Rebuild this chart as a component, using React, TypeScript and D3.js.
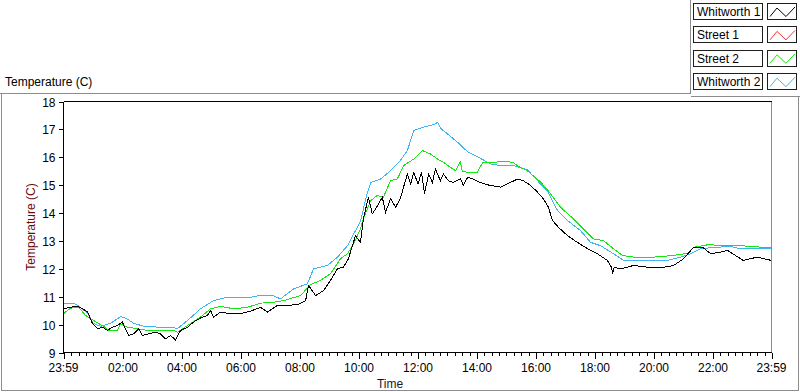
import * as d3 from 'd3'

// hours since midnight (first point is 23:59 the day before), temperature in C
const whitworth1: [number, number][] = [
  [-0.017, 10.57], [0.22, 10.62], [0.45, 10.66], [0.63, 10.57], [0.8, 10.45], [0.97, 10.03], [1.14, 9.85],
  [1.31, 9.91], [1.47, 9.79], [1.64, 9.91], [1.81, 9.97], [1.98, 10.09], [2.08, 9.85], [2.19, 9.61],
  [2.36, 9.67], [2.53, 9.85], [2.66, 9.61], [2.86, 9.67], [3.1, 9.73], [3.27, 9.67], [3.44, 9.49],
  [3.61, 9.61], [3.78, 9.45], [3.95, 9.79], [4.19, 9.91], [4.39, 10.09], [4.63, 10.24], [4.86, 10.33],
  [4.97, 10.5], [5.07, 10.27], [5.31, 10.45], [5.64, 10.39], [5.98, 10.39], [6.32, 10.48], [6.66, 10.62],
  [6.9, 10.45], [7.24, 10.69], [7.58, 10.69], [7.92, 10.72], [8.19, 10.86], [8.29, 11.4], [8.53, 11.04],
  [8.8, 11.22], [9.03, 11.58], [9.27, 12.0], [9.47, 12.06], [9.64, 12.36], [9.78, 12.83], [9.88, 13.19],
  [10.05, 12.95], [10.15, 13.8], [10.32, 14.57], [10.45, 13.97], [10.6, 14.21], [10.79, 14.57], [10.9, 14.03],
  [11.07, 14.51], [11.24, 14.21], [11.4, 14.51], [11.51, 14.93], [11.64, 15.4], [11.75, 15.04], [11.86, 15.46],
  [12.0, 15.04], [12.12, 15.46], [12.22, 14.69], [12.36, 15.4], [12.49, 15.1], [12.59, 15.58], [12.76, 15.16],
  [12.86, 15.4], [13.03, 15.16], [13.2, 15.1], [13.44, 15.22], [13.54, 14.99], [13.68, 15.28], [13.88, 15.22],
  [14.1, 15.1], [14.44, 14.99], [14.8, 14.93], [15.14, 15.1], [15.37, 15.22], [15.57, 15.16], [15.82, 14.99],
  [16.05, 14.75], [16.25, 14.51], [16.42, 14.21], [16.56, 13.73], [16.76, 13.49], [17.07, 13.19], [17.4, 12.95],
  [17.75, 12.72], [18.08, 12.54], [18.42, 12.3], [18.56, 12.06], [18.6, 11.82], [18.65, 12.06], [18.86, 12.0],
  [19.31, 12.12], [19.78, 12.06], [20.2, 12.03], [20.66, 12.12], [21.0, 12.36], [21.34, 12.77], [21.68, 12.75],
  [21.92, 12.54], [22.26, 12.6], [22.5, 12.66], [22.7, 12.52], [23.03, 12.3], [23.5, 12.42], [23.983, 12.3],
]

// no visible trace in the picture
const street1: [number, number][] = []

const street2: [number, number][] = [
  [-0.017, 10.39], [0.22, 10.59], [0.5, 10.62], [0.73, 10.33], [1.0, 10.15], [1.34, 9.94], [1.51, 9.79],
  [1.81, 9.79], [1.92, 10.03], [2.15, 9.91], [2.49, 9.85], [2.83, 9.79], [3.27, 9.79], [3.71, 9.79],
  [3.85, 9.73], [4.19, 9.97], [4.63, 10.27], [4.97, 10.57], [5.31, 10.65], [5.75, 10.57], [6.22, 10.62],
  [6.66, 10.77], [7.1, 10.8], [7.44, 10.86], [8.02, 11.04], [8.36, 11.44], [8.69, 11.58], [9.03, 11.82],
  [9.37, 12.36], [9.61, 12.54], [9.82, 12.9], [10.05, 13.43], [10.15, 13.8], [10.4, 14.45], [10.62, 14.63],
  [10.83, 14.57], [11.07, 15.16], [11.3, 15.22], [11.51, 15.7], [11.86, 15.94], [12.15, 16.24], [12.42, 16.12],
  [12.66, 15.94], [12.86, 15.82], [13.1, 15.64], [13.27, 15.52], [13.44, 15.84], [13.5, 15.5], [13.68, 15.46],
  [14.0, 15.45], [14.2, 15.82], [14.56, 15.82], [15.0, 15.86], [15.25, 15.8], [15.37, 15.7], [15.7, 15.52],
  [16.15, 15.12], [16.45, 14.75], [16.83, 14.21], [17.27, 13.79], [17.61, 13.43], [17.95, 13.07], [18.29, 13.01],
  [18.63, 12.72], [18.93, 12.48], [19.31, 12.42], [19.98, 12.42], [20.66, 12.48], [21.14, 12.56], [21.34, 12.77],
  [21.81, 12.86], [22.93, 12.83], [23.983, 12.75],
]

const whitworth2: [number, number][] = [
  [-0.017, 10.76], [0.33, 10.77], [0.56, 10.62], [0.8, 10.4], [1.0, 10.04], [1.24, 9.94], [1.58, 10.05],
  [1.92, 10.29], [2.15, 10.2], [2.36, 10.05], [2.7, 9.94], [3.17, 9.91], [3.6, 9.91], [3.85, 9.86],
  [4.19, 10.15], [4.63, 10.57], [5.07, 10.86], [5.54, 10.98], [6.22, 10.96], [6.66, 11.05], [7.1, 11.04],
  [7.34, 10.92], [7.78, 11.28], [8.25, 11.46], [8.46, 12.0], [8.93, 12.12], [9.27, 12.42], [9.61, 12.83],
  [9.82, 13.25], [10.05, 13.7], [10.25, 14.6], [10.4, 15.1], [10.73, 15.22], [11.07, 15.52], [11.4, 15.88],
  [11.64, 16.24], [11.86, 16.96], [12.19, 17.08], [12.53, 17.17], [12.66, 17.25], [12.8, 17.0], [13.0, 16.84],
  [13.34, 16.54], [13.68, 16.2], [14.0, 16.03], [14.46, 15.76], [14.8, 15.7], [15.25, 15.7], [15.71, 15.55],
  [16.05, 15.16], [16.39, 14.78], [16.73, 14.09], [17.07, 13.73], [17.51, 13.37], [17.85, 12.95], [18.19, 12.83],
  [18.63, 12.54], [18.97, 12.3], [19.78, 12.3], [20.46, 12.3], [20.9, 12.42], [21.24, 12.54], [21.58, 12.72],
  [22.02, 12.77], [22.6, 12.8], [22.93, 12.72], [23.983, 12.72],
]

const seriesNames = ['Whitworth 1', 'Street 1', 'Street 2', 'Whitworth 2']
const seriesColors = ['#000000', '#ff3030', '#14e614', '#3cb4f5']
const seriesData = [whitworth1, street1, street2, whitworth2]

const xMajorHours = [-1 / 60, 2, 4, 6, 8, 10, 12, 14, 16, 18, 20, 22, 23 + 59 / 60]
const xMajorLabels = ['23:59', '02:00', '04:00', '06:00', '08:00', '10:00', '12:00', '14:00', '16:00', '18:00', '20:00', '22:00', '23:59']
const yTicks = [9, 10, 11, 12, 13, 14, 15, 16, 17, 18]

const W = 800
const H = 392
const FONT = '"Liberation Sans", Arial, sans-serif'

export default function App() {
  const plot = { left: 63.5, right: 771.5, top: 101.5, bottom: 352.5 }

  const x = d3.scaleLinear().domain([-1 / 60, 23 + 59 / 60]).range([plot.left, plot.right])
  const y = d3.scaleLinear().domain([9, 18]).range([plot.bottom, plot.top])

  const line = d3.line<[number, number]>()
    .x(d => x(d[0]))
    .y(d => y(d[1]))

  // minor ticks every 15 minutes
  const minor = d3.range(1, 96).map(i => i / 4).filter(h => h % 2 !== 0)

  // draw order: blue, green, red, black on top
  const drawOrder = [3, 2, 1, 0]

  return (
    <div style={{ position: 'absolute', left: 0, top: 0 }}>
      <svg width={W} height={H} style={{ display: 'block', background: '#fff' }} fontFamily={FONT}>
        {/* outer frame */}
        <g stroke="#8c8c8c" fill="none" shapeRendering="crispEdges">
          <path d={`M0,93.5H690.5V0`} />
          <path d={`M690.5,96.5H800`} />
          <path d={`M1.5,93.5V390.5H798.5V96.5`} />
        </g>
        <text x={5} y={86} fontSize={12} fill="#000">Temperature (C)</text>

        {/* legend */}
        {seriesNames.map((name, i) => {
          const top = 3 + i * 23.4
          const sx = 767
          return (
            <g key={name}>
              <rect x={693.5} y={top + 0.5} width={69} height={16} fill="#fff" stroke="#1e1e1e" shapeRendering="crispEdges" />
              <text x={697} y={top + 13} fontSize={12} fill="#000">{name}</text>
              <rect x={sx + 0.5} y={top + 0.5} width={29} height={16} fill="#fff" stroke="#1e1e1e" shapeRendering="crispEdges" />
              <polyline
                points={[[sx + 3, top + 13.5], [sx + 10, top + 5], [sx + 19, top + 13.5], [sx + 28, top + 4]].map(p => p.join(',')).join(' ')}
                fill="none" stroke={seriesColors[i]} strokeWidth={1}
              />
            </g>
          )
        })}

        {/* plot area */}
        <rect x={plot.left} y={plot.top} width={plot.right - plot.left} height={plot.bottom - plot.top} fill="#fff" />
        <g fill="none" strokeWidth={1} shapeRendering="crispEdges">
          {drawOrder.map(i => seriesData[i].length ? (
            <path key={seriesNames[i]} d={line(seriesData[i]) ?? ''} stroke={seriesColors[i]} />
          ) : null)}
        </g>
        <g fill="none" shapeRendering="crispEdges">
          <path d={`M${plot.left},${plot.top}H${plot.right}`} stroke="#000" />
          <path d={`M${plot.right},${plot.top}V${plot.bottom}`} stroke="#8c8c8c" />
          <path d={`M${plot.left},${plot.top}V${plot.bottom}H${plot.right}`} stroke="#000" />
        </g>

        {/* y axis */}
        <g shapeRendering="crispEdges">
          {yTicks.map(t => (
            <g key={t}>
              <line x1={plot.left - 5} x2={plot.left} y1={Math.round(y(t)) + 0.5} y2={Math.round(y(t)) + 0.5} stroke="#000" />
              <text x={plot.left - 8} y={Math.round(y(t)) + 4.5} fontSize={12} textAnchor="end" fill="#000">{t}</text>
            </g>
          ))}
        </g>
        <text transform="translate(35,227) rotate(-90)" fontSize={12} textAnchor="middle" fill="#6e0a0a">Temperature (C)</text>

        {/* x axis */}
        <g shapeRendering="crispEdges" stroke="#000">
          {minor.map(h => (
            <line key={h} x1={Math.round(x(h)) + 0.5} x2={Math.round(x(h)) + 0.5} y1={plot.bottom} y2={plot.bottom + 3.5} />
          ))}
          {xMajorHours.map(h => (
            <line key={h} x1={Math.round(x(h)) + 0.5} x2={Math.round(x(h)) + 0.5} y1={plot.bottom} y2={plot.bottom + 6} />
          ))}
        </g>
        {xMajorHours.map((h, i) => (
          <text key={h} x={x(h)} y={372} fontSize={12} textAnchor="middle" fill="#000">{xMajorLabels[i]}</text>
        ))}
        <text x={390} y={388} fontSize={12} textAnchor="middle" fill="#1a1a1a">Time</text>
      </svg>
    </div>
  )
}
